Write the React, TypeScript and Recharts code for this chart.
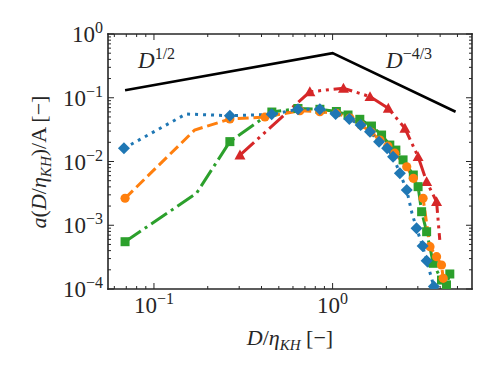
import { ComposedChart, Line, XAxis, YAxis } from "recharts";

// D / eta_KH (x) and a(D/eta_KH)/A (y) for each run
const blueX = [0.0679, 0.151, 0.266, 0.456, 0.64, 0.849, 1.04, 1.24, 1.435, 1.62, 1.82, 2.02, 2.18, 2.38, 2.6, 2.78, 2.95, 3.19, 3.36, 3.69];
const blueY = [0.0161, 0.0556, 0.0523, 0.055, 0.0659, 0.0659, 0.0556, 0.0464, 0.0374, 0.0293, 0.0205, 0.0161, 0.0119, 0.00653, 0.00357, 0.00156, 0.000895, 0.000473, 0.000278, 0.000109];
const blueBare = [1, 15];

const orangeX = [0.0689, 0.169, 0.266, 0.418, 0.656, 0.849, 1.05, 1.25, 1.44, 1.64, 1.84, 2.04, 2.23, 2.6, 2.83, 3.21, 3.37, 3.51, 3.82, 4.07, 4.16];
const orangeY = [0.00265, 0.0312, 0.0464, 0.0499, 0.0627, 0.0604, 0.057, 0.0481, 0.0374, 0.029, 0.0217, 0.0175, 0.0135, 0.00828, 0.00545, 0.00265, 0.00101, 0.000461, 0.000321, 0.000238, 0.000147];
const orangeBare = [1, 16];

const greenX = [0.0689, 0.173, 0.266, 0.457, 0.64, 0.849, 1.05, 1.22, 1.42, 1.65, 1.88, 2.09, 2.26, 2.48, 2.83, 3.01, 3.15, 3.36, 3.66, 4.07, 4.53, 4.34];
const greenY = [0.000552, 0.00317, 0.0205, 0.0597, 0.0678, 0.0659, 0.0609, 0.0536, 0.0459, 0.036, 0.026, 0.0181, 0.0151, 0.0106, 0.00614, 0.00403, 0.00163, 0.000792, 0.000253, 0.000138, 0.000172, 0.000116];
const greenBare = [1];

const redX = [0.303, 0.746, 1.15, 1.62, 2.05, 2.54, 3.01, 3.36, 3.82, 3.98];
const redY = [0.0126, 0.124, 0.141, 0.104, 0.0684, 0.0332, 0.0119, 0.00482, 0.00234, 0.000587];
const redBare = [9];

// power-law guide: D^{1/2} then D^{-4/3}
const guideX = [0.0689, 1, 4.88];
const guideY = [0.131, 0.5, 0.0604];

const xDecades = [0.1, 1];
const xMinors = [0.06, 0.07, 0.08, 0.09, 0.2, 0.3, 0.4, 0.5, 0.6, 0.7, 0.8, 0.9, 2, 3, 4, 5];
const yDecades = [1e-4, 1e-3, 1e-2, 1e-1, 1];
const mantissas = [2, 3, 4, 5, 6, 7, 8, 9];

const zip = (xs: number[], ys: number[]) => xs.map((x, i) => ({ x, y: ys[i] }));

const xTicks = [...xDecades, ...xMinors].sort((a, b) => a - b);
const yTicks = yDecades
  .flatMap((d) => (d < 1 ? [d, ...mantissas.map((m) => d * m)] : [d]))
  .sort((a, b) => a - b);

const FONT = "'Liberation Serif', 'Times New Roman', serif";
const INK = "#262626";
const C = { blue: "#1f77b4", orange: "#ff7f0e", green: "#2ca02c", red: "#d62728" };

const isMajor = (v: number) => Math.abs(Math.log10(v) - Math.round(Math.log10(v))) < 1e-6;
const expText = (v: number) => {
  const e = Math.round(Math.log10(v));
  return e < 0 ? `\u2212${-e}` : `${e}`;
};

const Pow = ({ x, y, v, anchor }: any) => (
  <text x={x} y={y} textAnchor={anchor} fontFamily={FONT} fontSize={23} fill={INK}>
    <tspan>10</tspan>
    <tspan dy={-9} fontSize={16}>{expText(v)}</tspan>
  </text>
);

const BottomTick = (p: any) => {
  const v = p.payload.value;
  const major = isMajor(v);
  return (
    <g>
      <line x1={p.x} x2={p.x} y1={p.y} y2={p.y - (major ? 6 : 3)} stroke={INK} strokeWidth={1} />
      {major && <Pow x={p.x} y={p.y + 24} v={v} anchor="middle" />}
    </g>
  );
};

const TopTick = (p: any) => {
  const major = isMajor(p.payload.value);
  return <line x1={p.x} x2={p.x} y1={p.y} y2={p.y + (major ? 6 : 3)} stroke={INK} strokeWidth={1} />;
};

const LeftTick = (p: any) => {
  const v = p.payload.value;
  const major = isMajor(v);
  return (
    <g>
      <line x1={p.x} x2={p.x + (major ? 6 : 3)} y1={p.y} y2={p.y} stroke={INK} strokeWidth={1} />
      {major && <Pow x={p.x - 5} y={p.y + 8} v={v} anchor="end" />}
    </g>
  );
};

const RightTick = (p: any) => {
  const major = isMajor(p.payload.value);
  return <line x1={p.x} x2={p.x - (major ? 6 : 3)} y1={p.y} y2={p.y} stroke={INK} strokeWidth={1} />;
};

function makeDot(shape: string, color: string, bare: number[]) {
  return (p: any) => {
    const { cx, cy, index } = p;
    if (cx == null || cy == null || bare.includes(index)) return <g key={index} />;
    if (shape === "diamond") {
      const s = 6;
      return <polygon key={index} points={`${cx},${cy - s} ${cx + s},${cy} ${cx},${cy + s} ${cx - s},${cy}`} fill={color} />;
    }
    if (shape === "circle") return <circle key={index} cx={cx} cy={cy} r={4.6} fill={color} />;
    if (shape === "square") return <rect key={index} x={cx - 4.5} y={cy - 4.5} width={9} height={9} fill={color} />;
    const s = 5.5;
    return <polygon key={index} points={`${cx},${cy - s} ${cx + s},${cy + s * 0.8} ${cx - s},${cy + s * 0.8}`} fill={color} />;
  };
}

const axisLine = { stroke: INK, strokeWidth: 1.6, strokeLinecap: "square" as const };

export default function App() {
  return (
    <div style={{ position: "absolute", left: 0, top: 0, width: 498, height: 374, background: "#fff" }}>
      <ComposedChart width={498} height={374} margin={{ top: 24, right: 16, bottom: 45, left: 48 }}>
        <XAxis
          dataKey="x"
          type="number"
          scale="log"
          domain={[0.0553, 6.03]}
          allowDataOverflow
          ticks={xTicks}
          interval={0}
          tick={BottomTick}
          tickLine={false}
          tickSize={0}
          tickMargin={0}
          axisLine={axisLine}
          height={40}
        />
        <XAxis
          xAxisId="top"
          orientation="top"
          dataKey="x"
          type="number"
          scale="log"
          domain={[0.0553, 6.03]}
          allowDataOverflow
          ticks={xTicks}
          interval={0}
          tick={TopTick}
          tickLine={false}
          tickSize={0}
          tickMargin={0}
          axisLine={axisLine}
          height={10}
        />
        <YAxis
          type="number"
          scale="log"
          domain={[1e-4, 1]}
          allowDataOverflow
          ticks={yTicks}
          interval={0}
          tick={LeftTick}
          tickLine={false}
          tickSize={0}
          tickMargin={0}
          axisLine={axisLine}
          width={60}
        />
        <YAxis
          yAxisId="right"
          orientation="right"
          type="number"
          scale="log"
          domain={[1e-4, 1]}
          allowDataOverflow
          ticks={yTicks}
          interval={0}
          tick={RightTick}
          tickLine={false}
          tickSize={0}
          tickMargin={0}
          axisLine={axisLine}
          width={10}
        />
        <Line data={zip(guideX, guideY)} dataKey="y" stroke="#000" strokeWidth={2.6} dot={false} activeDot={false} isAnimationActive={false} />
        <Line data={zip(redX, redY)} dataKey="y" stroke={C.red} strokeWidth={3} strokeDasharray="19 4.8 3 4.8 3 4.8" dot={makeDot("triangle", C.red, redBare)} activeDot={false} isAnimationActive={false} />
        <Line data={zip(greenX, greenY)} dataKey="y" stroke={C.green} strokeWidth={3} strokeDasharray="19 4.8 3 4.8" dot={makeDot("square", C.green, greenBare)} activeDot={false} isAnimationActive={false} />
        <Line data={zip(orangeX, orangeY)} dataKey="y" stroke={C.orange} strokeWidth={3} strokeDasharray="11 4.8" dot={makeDot("circle", C.orange, orangeBare)} activeDot={false} isAnimationActive={false} />
        <Line data={zip(blueX, blueY)} dataKey="y" stroke={C.blue} strokeWidth={3} strokeDasharray="3 5" dot={makeDot("diamond", C.blue, blueBare)} activeDot={false} isAnimationActive={false} />
      </ComposedChart>
      <svg width={498} height={374} style={{ position: "absolute", left: 0, top: 0, pointerEvents: "none" }}>
        <g fontFamily={FONT} fill={INK}>
          <text x={138} y={68} fontSize={23}>
            <tspan fontStyle="italic">D</tspan>
            <tspan dy={-9} fontSize={16}>1/2</tspan>
          </text>
          <text x={386} y={68} fontSize={23}>
            <tspan fontStyle="italic">D</tspan>
            <tspan dy={-9} fontSize={16}>{"\u22124/3"}</tspan>
          </text>
          <text x={290} y={345} fontSize={22} textAnchor="middle">
            <tspan fontStyle="italic">D</tspan>
            <tspan>/</tspan>
            <tspan fontStyle="italic">η</tspan>
            <tspan dy={5} fontSize={15} fontStyle="italic">KH</tspan>
            <tspan dy={-5}> [−]</tspan>
          </text>
          <text x={0} y={0} fontSize={22} textAnchor="middle" transform="translate(46,162) rotate(-90)">
            <tspan fontStyle="italic">a</tspan>
            <tspan>(</tspan>
            <tspan fontStyle="italic">D</tspan>
            <tspan>/</tspan>
            <tspan fontStyle="italic">η</tspan>
            <tspan dy={5} fontSize={15} fontStyle="italic">KH</tspan>
            <tspan dy={-5}>)/A [−]</tspan>
          </text>
        </g>
      </svg>
    </div>
  );
}
